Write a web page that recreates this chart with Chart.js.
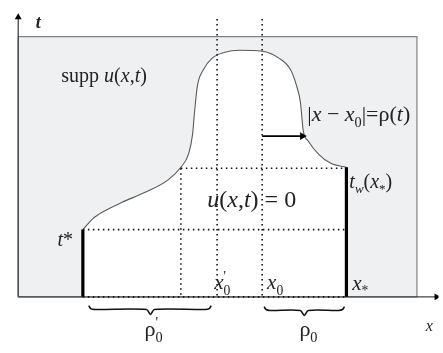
<!DOCTYPE html>
<html>
<head>
<meta charset="utf-8">
<script src="https://cdn.jsdelivr.net/npm/chart.js@4/dist/chart.umd.min.js"></script>
<style>
  body { margin: 0; background: #fff; }
  #mycanvas { display: block; }
</style>
</head>
<body>
<canvas id="mycanvas" width="443" height="353"></canvas>
<script>
// boundary of supp u(x,t): |x - x0| = rho(t)
var curveX = [80, 90, 100, 120, 143, 167, 180, 188, 192, 194, 197, 203, 212, 225, 240, 263, 280, 292, 298, 302, 305, 310, 320, 333, 349];
var curveT = [231, 220, 213, 203, 193, 180, 167, 153, 133, 110, 83, 67, 55, 49, 47, 48, 55, 67, 83, 100, 130, 140, 153, 163, 167];

// key abscissas / ordinates
var xLeft = 14, xRight = 421, xEnd = 441;
var tTop = 33, tAxis = 13, tBase = 300;
var xStar0 = 80, xMid = 180, x0p = 217, x0 = 263, xStar = 349;
var tStar = 231, tW = 167, tMid = 168, tArrow = 135, xArrow = 304;

// braces under the axis: [from, to, tip]
var braceL = [86, 211, 149];
var braceR = [265, 347, 306];

function pts(xs, ys) {
	var out = [];
	for (var i in xs) out.push({x: xs[i], y: ys[i]});
	return out;
}

function line(xs, ys, opts) {
	var d = {
		data: pts(xs, ys),
		borderColor: "#111",
		borderWidth: 1,
		pointRadius: 0,
		fill: false,
		tension: 0
	};
	for (var k in opts) d[k] = opts[k];
	return d;
}

function brace(b, y) {
	var a = b[0], c = b[1], m = b[2];
	return line([a, a + 2, a + 6, m - 4, m, m + 4, c - 6, c - 2, c],
		[y - 4, y - 1, y, y, y + 5, y, y, y - 1, y - 4], {borderWidth: 1.6, tension: 0.3});
}

var dotted = {borderDash: [1.5, 3.5], borderWidth: 1.6, borderColor: "#111"};

var datasets = [
	// gray frame
	line([xLeft, xRight, xRight, xLeft, xLeft], [tTop, tTop, tBase, tBase, tTop],
		{fill: "shape", backgroundColor: "#eef0f1", borderColor: "#808080", borderWidth: 1.2, order: 10}),
	// white zero region under the curve
	line(curveX, curveT, {fill: {value: tBase}, backgroundColor: "#ffffff", borderColor: "#5a5a5a",
		borderWidth: 1.1, cubicInterpolationMode: "monotone", order: 9}),
	// dotted grid
	line([x0p, x0p], [15, tBase], dotted),
	line([x0, x0], [15, tBase], dotted),
	line([xMid, xMid], [tMid, tBase], dotted),
	line([xMid, xStar], [tMid, tMid], dotted),
	line([xStar0, xStar], [tStar, tStar], dotted),
	line([xStar0, xStar], [tBase, tBase], dotted),
	// thick segments
	line([xStar0, xStar0], [tStar, tBase], {borderWidth: 3.2, borderColor: "#000"}),
	line([xStar, xStar], [tW, tBase], {borderWidth: 3.2, borderColor: "#000"}),
	// axes with arrows
	line([xLeft, xLeft], [tBase, tAxis], {borderColor: "#444", borderWidth: 1.3,
		pointRadius: [0, 4], pointStyle: "triangle", pointRotation: 0, pointBackgroundColor: "#000", pointBorderWidth: 0}),
	line([xLeft, xEnd], [tBase, tBase], {borderColor: "#444", borderWidth: 1.3,
		pointRadius: [0, 4], pointStyle: "triangle", pointRotation: 90, pointBackgroundColor: "#000", pointBorderWidth: 0}),
	// arrow to the boundary
	line([x0, xArrow], [tArrow, tArrow], {borderWidth: 1.8, borderColor: "#000",
		pointRadius: [0, 4.5], pointStyle: "triangle", pointRotation: 90, pointBackgroundColor: "#000", pointBorderWidth: 0}),
	brace(braceL, 313),
	brace(braceR, 314)
];

// labels: each is [x, y, size, parts]; part = [text, flags] (i italic, b bold, s sub, p sup)
var labels = [
	[32, 24, 18, [["t", "ib"]]],
	[58, 80, 20, [["supp ", ""], ["u", "i"], ["(", ""], ["x", "i"], [",", ""], ["t", "i"], [")", ""]]],
	[309, 120, 22, [["|", ""], ["x", "i"], [" \u2212 ", ""], ["x", "i"], ["0", "s"], ["|=\u03c1(", ""], ["t", "i"], [")", ""]]],
	[352, 188, 20, [["t", "i"], ["w", "is"], ["(", ""], ["x", "i"], ["*", "s"], [")", ""]]],
	[207, 208, 24, [["u", "i"], ["(", ""], ["x", "i"], [",", ""], ["t", "i"], [") = 0", ""]]],
	[54, 248, 20, [["t", "i"], ["*", ""]]],
	[214, 292, 21, [["x", "i"], ["'", "p"], ["0", "s"]]],
	[268, 292, 21, [["x", "i"], ["0", "s"]]],
	[355, 293, 21, [["x", "i"], ["*", "s"]]],
	[143, 340, 22, [["\u03c1", ""], ["'", "p"], ["0", "s"]]],
	[301, 340, 22, [["\u03c1", ""], ["0", "s"]]],
	[430, 335, 16, [["x", "i"]]]
];

function drawRich(ctx, x, y, size, parts) {
	for (var i in parts) {
		var t = parts[i][0], f = parts[i][1];
		var small = f.indexOf("s") >= 0 || f.indexOf("p") >= 0;
		var s = small ? size * 0.65 : size;
		ctx.font = (f.indexOf("i") >= 0 ? "italic " : "") + (f.indexOf("b") >= 0 ? "bold " : "") +
			s + "px 'Liberation Serif'";
		var dy = f.indexOf("s") >= 0 ? size * 0.26 : (f.indexOf("p") >= 0 ? -size * 0.38 : 0);
		ctx.fillText(t, x, y + dy);
		if (f.indexOf("p") < 0) x += ctx.measureText(t).width;
	}
}

var labelPlugin = {
	id: "labels",
	afterDatasetsDraw: function(chart) {
		var ctx = chart.ctx, sx = chart.scales.x, sy = chart.scales.y;
		ctx.save();
		ctx.fillStyle = "#222";
		ctx.textBaseline = "alphabetic";
		for (var i in labels) {
			var l = labels[i];
			drawRich(ctx, sx.getPixelForValue(l[0]), sy.getPixelForValue(l[1]), l[2], l[3]);
		}
		ctx.restore();
	}
};

var ctx = document.getElementById("mycanvas");
var diagram = new Chart(ctx, {
	type: "line",
	data: {datasets: datasets},
	options: {
		responsive: false,
		animation: false,
		layout: {padding: 0},
		plugins: {legend: {display: false}, tooltip: {enabled: false}},
		scales: {
			x: {type: "linear", min: 0, max: 443, display: false},
			y: {type: "linear", min: 0, max: 353, reverse: true, display: false}
		}
	},
	plugins: [labelPlugin]
});
</script>
</body>
</html>
